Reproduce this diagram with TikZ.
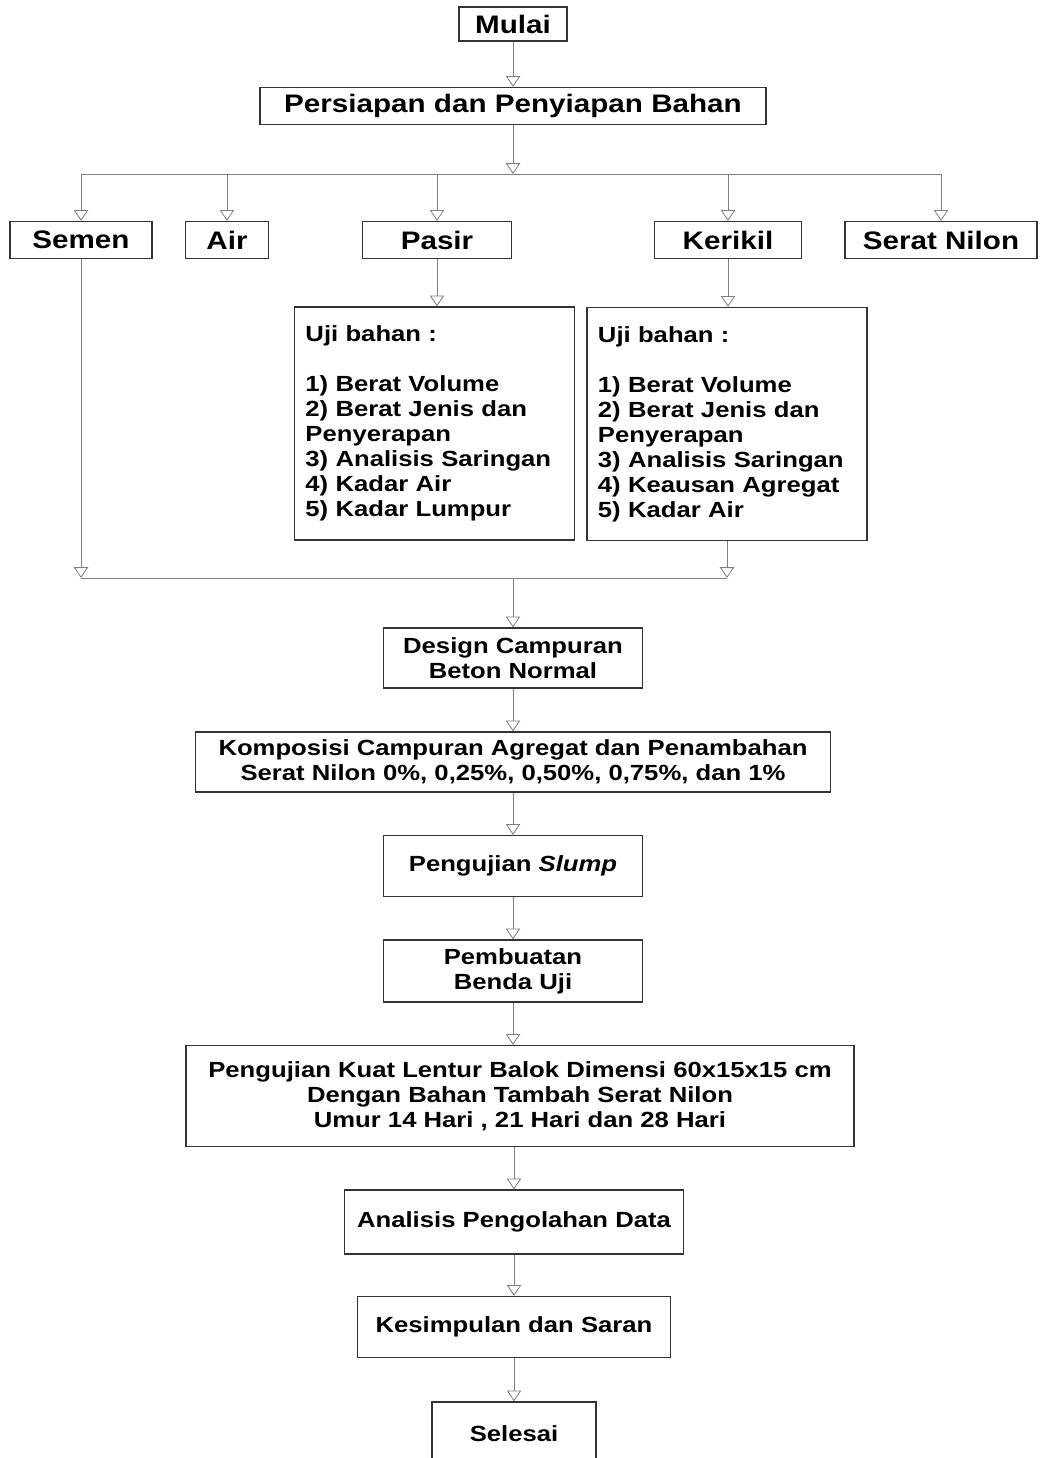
\documentclass[tikz,border=0pt]{standalone}
\usepackage{fontspec}
\setmainfont{Liberation Sans}[FakeStretch=1.17]
\usetikzlibrary{arrows.meta}

\begin{document}
\begin{tikzpicture}[x=0.025cm, y=-0.025cm,
  every node/.style={font=\bfseries\fontsize{15.6}{17.8}\selectfont},
  box/.style={draw=black!80, line width=0.9pt, rectangle, inner sep=0pt, align=center},
  big/.style={font=\bfseries\fontsize{18}{21}\selectfont},
  ujibox/.style={box, align=left, text width=6.45cm, inner sep=0.275cm, minimum height=5.825cm},
  line/.style={draw=gray, line width=0.6pt},
  arr/.style={line, -{Triangle[open, length=0.27cm, width=0.36cm]}}]
\useasboundingbox (0,0) rectangle (1040,1458);

% start
\node[box, big, minimum width=2.7cm, minimum height=0.85cm] (mulai) at (513,24) {Mulai};
\node[box, big, minimum width=12.65cm, minimum height=0.925cm] (persiapan) at (513,106) {Persiapan dan Penyiapan Bahan};

% bahan
\node[box, big, minimum width=3.55cm, minimum height=0.925cm] (semen) at (81,240) {Semen};
\node[box, big, minimum width=2.075cm, minimum height=0.925cm] (air) at (227,240) {Air};
\node[box, big, minimum width=3.725cm, minimum height=0.925cm] (pasir) at (437,240) {Pasir};
\node[box, big, minimum width=3.675cm, minimum height=0.925cm] (kerikil) at (728,240) {Kerikil};
\node[box, big, minimum width=4.8cm, minimum height=0.925cm] (nilon) at (941,240) {Serat Nilon};

% uji bahan
\node[ujibox] (ujipasir) at (434.5,423.5) {Uji bahan :\\[17.8pt]
  1) Berat Volume\\ 2) Berat Jenis dan\\ Penyerapan\\ 3) Analisis Saringan\\ 4) Kadar Air\\ 5) Kadar Lumpur};
\node[ujibox] (ujikerikil) at (727,424) {Uji bahan :\\[17.8pt]
  1) Berat Volume\\ 2) Berat Jenis dan\\ Penyerapan\\ 3) Analisis Saringan\\ 4) Keausan Agregat\\ 5) Kadar Air};

% proses
\node[box, minimum width=6.475cm, minimum height=1.5cm] (design) at (513,658) {Design Campuran\\ Beton Normal};
\node[box, minimum width=15.875cm, minimum height=1.5cm] (komposisi) at (513,762) {Komposisi Campuran Agregat dan Penambahan\\ Serat Nilon 0\%, 0,25\%, 0,50\%, 0,75\%, dan 1\%};
\node[box, minimum width=6.475cm, minimum height=1.525cm] (slump) at (513,866) {Pengujian \textit{Slump}};
\node[box, minimum width=6.475cm, minimum height=1.55cm] (pembuatan) at (513,971) {Pembuatan\\ Benda Uji};
\node[box, minimum width=16.7cm, minimum height=2.525cm] (lentur) at (520,1096) {Pengujian Kuat Lentur Balok Dimensi 60x15x15 cm\\ Dengan Bahan Tambah Serat Nilon\\ Umur 14 Hari , 21 Hari dan 28 Hari};
\node[box, minimum width=8.475cm, minimum height=1.6cm] (analisis) at (514,1222) {Analisis Pengolahan Data};
\node[box, minimum width=7.825cm, minimum height=1.525cm] (kesimpulan) at (514,1327) {Kesimpulan dan Saran};
\node[box, minimum width=4.1cm, minimum height=1.6cm] (selesai) at (514,1434) {Selesai};

\coordinate (split) at (513,174);
\coordinate (merge) at (513,578);

\draw[arr] (mulai) -- (persiapan);
\draw[arr] (persiapan) -- (split);
\draw[line] (semen.north |- split) -- (nilon.north |- split);
\foreach \b in {semen, air, pasir, kerikil, nilon}
  \draw[arr] (\b.north |- split) -- (\b.north);
\draw[arr] (pasir) -- (pasir.south |- ujipasir.north);
\draw[arr] (kerikil) -- (kerikil.south |- ujikerikil.north);
\draw[line] (semen.south |- merge) -- (ujikerikil.south |- merge);
\draw[arr] (semen) -- (semen.south |- merge);
\draw[arr] (ujikerikil) -- (ujikerikil.south |- merge);
\draw[arr] (merge) -- (design);
\draw[arr] (design) -- (komposisi);
\draw[arr] (komposisi) -- (slump);
\draw[arr] (slump) -- (pembuatan);
\draw[arr] (pembuatan) -- (pembuatan.south |- lentur.north);
\draw[arr] (lentur.south -| analisis) -- (analisis);
\draw[arr] (analisis) -- (kesimpulan);
\draw[arr] (kesimpulan) -- (selesai);
\end{tikzpicture}
\end{document}
